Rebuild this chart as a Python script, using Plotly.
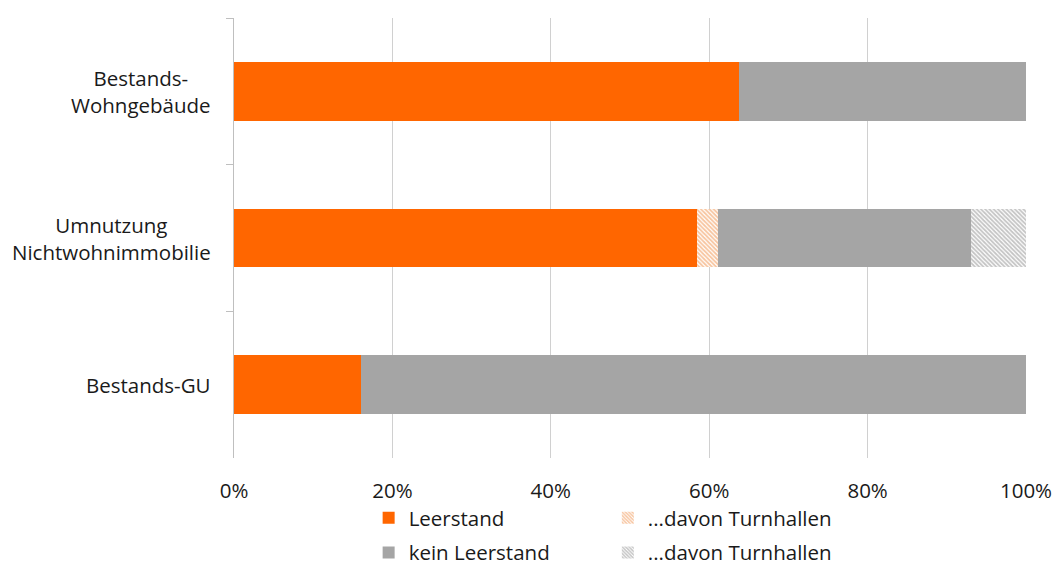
import plotly.graph_objects as go

categories = ["Bestands-<br>Wohngebäude", "Umnutzung<br>Nichtwohnimmobilie", "Bestands-GU"]
leerstand = [63.8, 58.5, 16.0]
leerstand_turnhallen = [0.0, 2.6, 0.0]
kein_leerstand = [36.2, 32.0, 84.0]
kein_leerstand_turnhallen = [0.0, 6.9, 0.0]
x_ticks = [0, 20, 40, 60, 80, 100]
x_tick_labels = ["0%", "20%", "40%", "60%", "80%", "100%"]

ORANGE = "#FF6600"
GREY = "#A5A5A5"
FONT = "Open Sans"
FS = 20.5
TEXT = "#1a1a1a"

fig = go.Figure()

fig.add_trace(go.Bar(
    y=categories, x=leerstand, orientation="h", name="Leerstand",
    marker=dict(color=ORANGE, line=dict(width=0)),
    legend="legend", legendgroup="a",
))
fig.add_trace(go.Bar(
    y=categories, x=leerstand_turnhallen, orientation="h", name="...davon Turnhallen",
    marker=dict(color="white", line=dict(width=0),
                pattern=dict(shape="\\", fgcolor="#F08A40", bgcolor="white", size=3, solidity=0.6)),
    legend="legend2", legendgroup="b",
))
fig.add_trace(go.Bar(
    y=categories, x=kein_leerstand, orientation="h", name="kein Leerstand",
    marker=dict(color=GREY, line=dict(width=0)),
    legend="legend", legendgroup="c",
))
fig.add_trace(go.Bar(
    y=categories, x=kein_leerstand_turnhallen, orientation="h", name="...davon Turnhallen",
    marker=dict(color="white", line=dict(width=0),
                pattern=dict(shape="\\", fgcolor="#8a8a8a", bgcolor="white", size=3, solidity=0.6)),
    legend="legend2", legendgroup="d",
))

# category labels, centred per line like the original axis labels
for cat in categories:
    fig.add_annotation(
        x=0, xref="paper", y=cat, yref="y", xanchor="right", xshift=-21,
        text=cat, showarrow=False, align="center",
        font=dict(family=FONT, size=FS, color=TEXT),
    )

plot_h = 566 - 18 - 108
legend_common = dict(
    orientation="v", yref="paper", yanchor="top",
    font=dict(family=FONT, size=FS, color=TEXT),
    bgcolor="rgba(0,0,0,0)", itemwidth=30, tracegroupgap=5,
    itemclick=False, itemdoubleclick=False,
)

fig.update_layout(
    width=1055, height=566,
    margin=dict(l=234, r=29, t=18, b=108, autoexpand=False),
    plot_bgcolor="white", paper_bgcolor="white",
    barmode="stack", bargap=0.6,
    showlegend=True,
    legend=dict(x=0.17, y=-(498 - 458) / plot_h, **legend_common),
    legend2=dict(x=0.472, y=-(498 - 458) / plot_h, **legend_common),
    xaxis=dict(
        range=[0, 100], tickvals=x_ticks, ticktext=x_tick_labels,
        showgrid=True, gridcolor="#D0D0D0", gridwidth=1,
        zeroline=False, showline=False, ticks="",
        ticklabelstandoff=18, automargin=False,
        tickfont=dict(family=FONT, size=FS, color=TEXT),
        fixedrange=True,
    ),
    yaxis=dict(
        categoryorder="array", categoryarray=categories, autorange="reversed",
        showticklabels=False, showgrid=False, zeroline=False,
        showline=True, linecolor="#BFBFBF", linewidth=1, automargin=False,
        ticks="outside", ticklen=7, tickcolor="#BFBFBF", tickson="boundaries",
        fixedrange=True,
    ),
)

fig.write_html("out.html")
